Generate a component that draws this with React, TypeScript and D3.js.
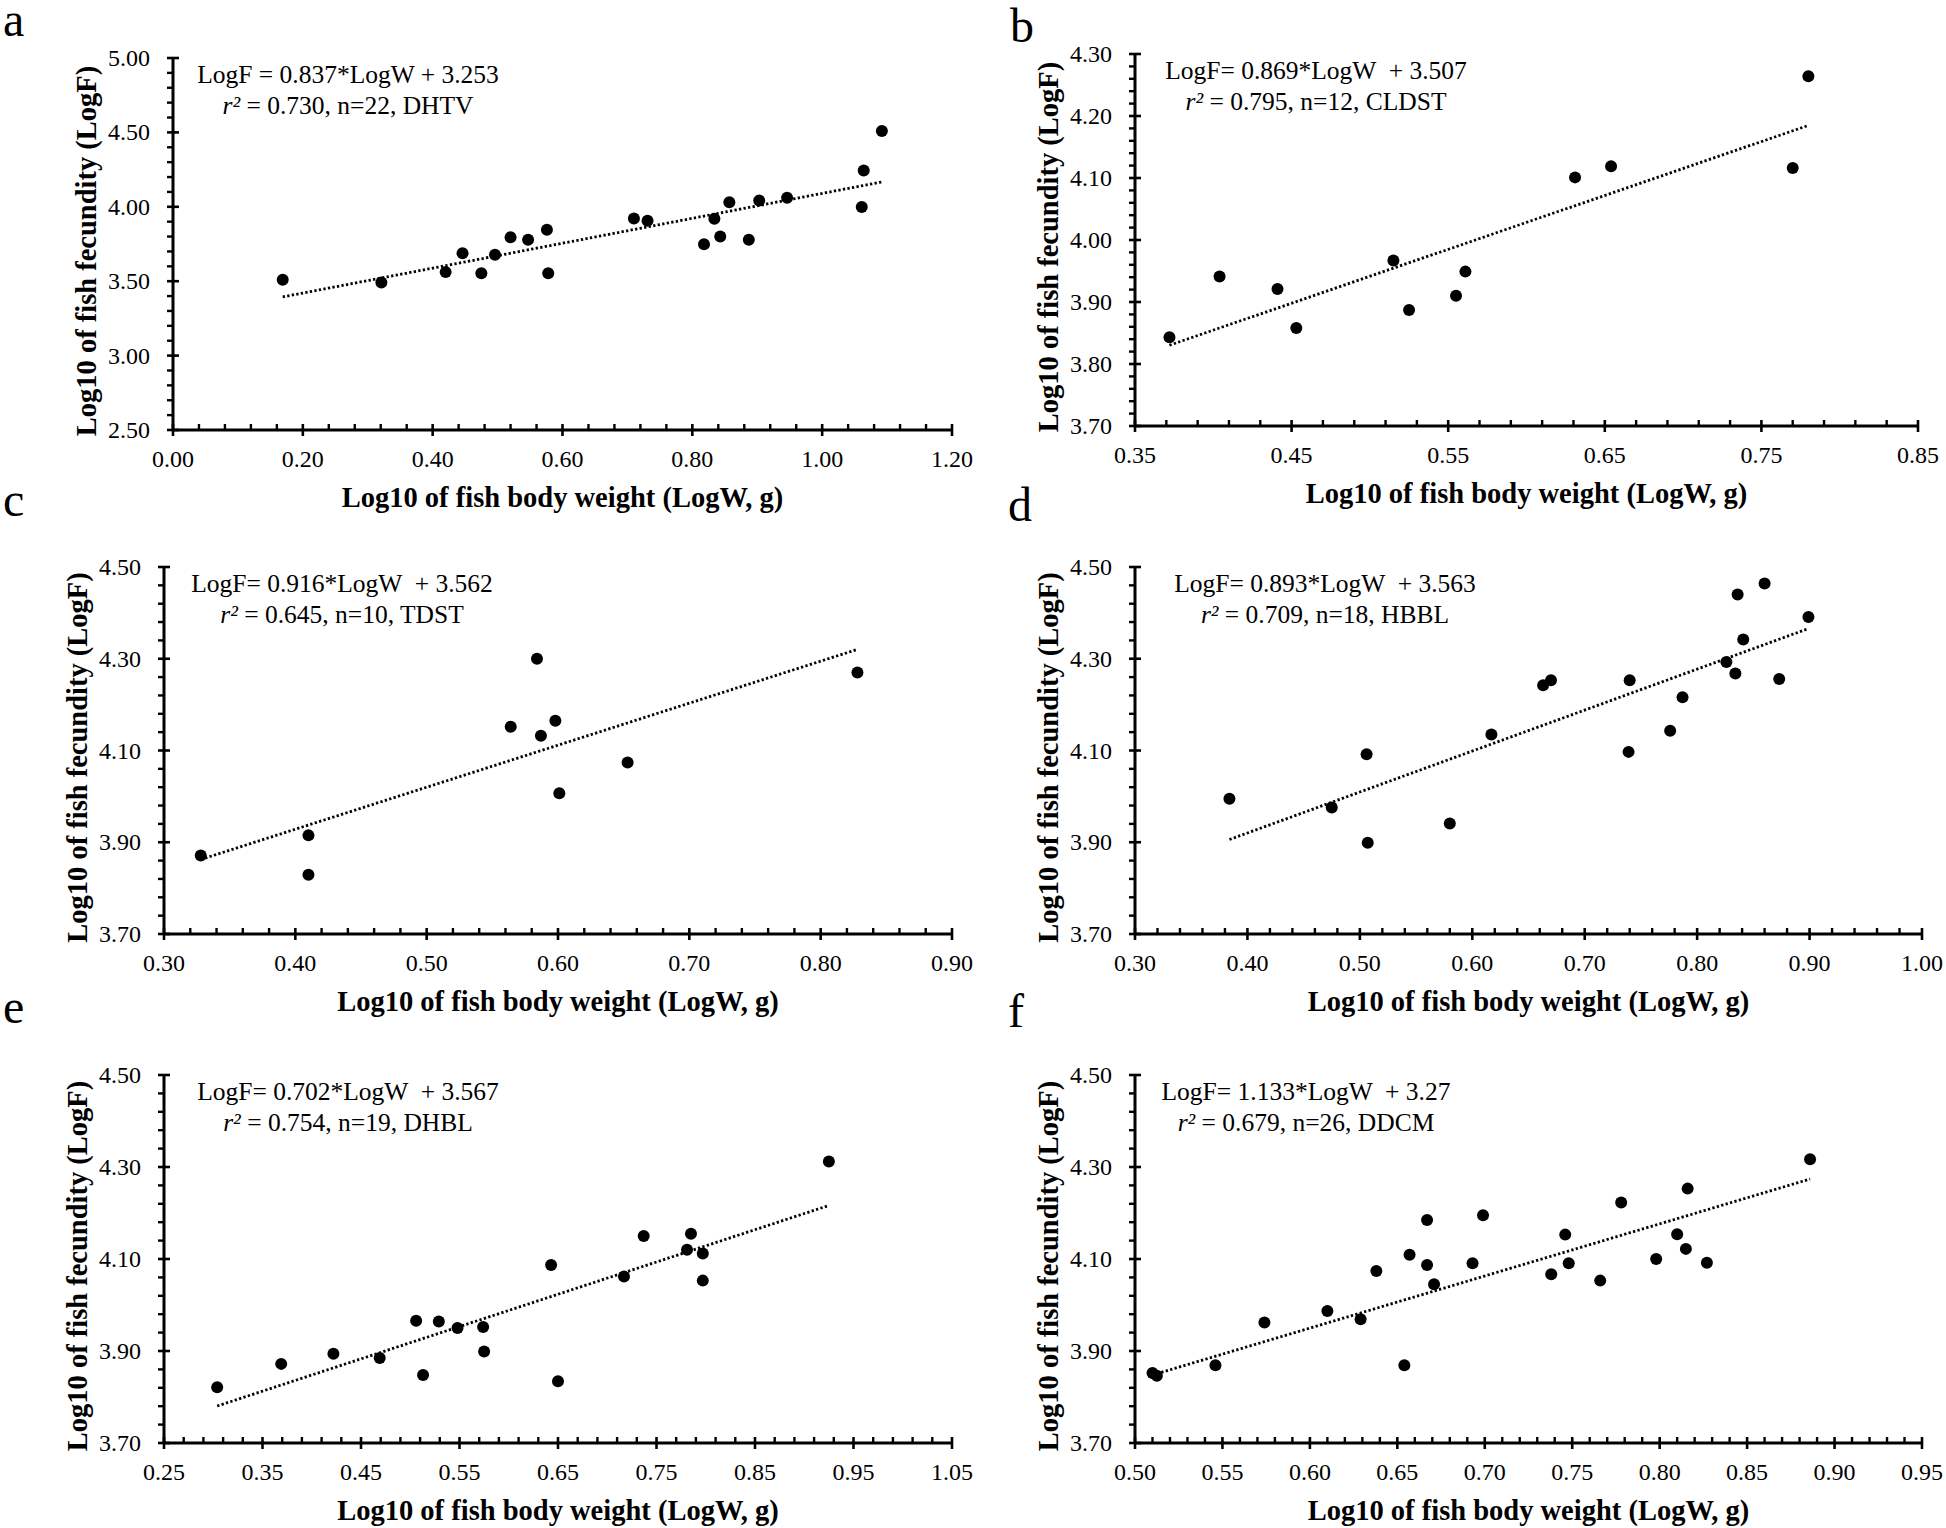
import React from 'react';
import * as d3 from 'd3';

// ---------- data ----------
const aLogW = [0.169, 0.321, 0.420, 0.446, 0.475, 0.496, 0.520, 0.547, 0.576, 0.578, 0.710, 0.731, 0.818, 0.834, 0.843, 0.857, 0.887, 0.903, 0.946, 1.061, 1.064, 1.092];
const aLogF = [3.509, 3.491, 3.561, 3.688, 3.554, 3.677, 3.796, 3.778, 3.845, 3.554, 3.921, 3.906, 3.749, 3.919, 3.800, 4.031, 3.778, 4.043, 4.061, 3.998, 4.244, 4.509];

const bLogW = [0.372, 0.404, 0.441, 0.453, 0.515, 0.525, 0.555, 0.561, 0.631, 0.654, 0.770, 0.780];
const bLogF = [3.843, 3.941, 3.921, 3.858, 3.967, 3.887, 3.910, 3.949, 4.101, 4.119, 4.116, 4.264];

const cLogW = [0.328, 0.410, 0.410, 0.564, 0.584, 0.587, 0.598, 0.601, 0.653, 0.828];
const cLogF = [3.871, 3.915, 3.829, 4.152, 4.300, 4.132, 4.165, 4.007, 4.074, 4.270];

const dLogW = [0.384, 0.475, 0.506, 0.507, 0.580, 0.617, 0.663, 0.670, 0.739, 0.740, 0.776, 0.787, 0.826, 0.834, 0.836, 0.841, 0.860, 0.873, 0.899];
const dLogF = [3.995, 3.976, 4.092, 3.899, 3.941, 4.135, 4.242, 4.253, 4.097, 4.253, 4.143, 4.216, 4.293, 4.268, 4.440, 4.342, 4.464, 4.256, 4.391];

const eLogW = [0.304, 0.369, 0.422, 0.469, 0.506, 0.513, 0.529, 0.548, 0.574, 0.575, 0.643, 0.650, 0.717, 0.737, 0.781, 0.785, 0.797, 0.797, 0.925];
const eLogF = [3.821, 3.872, 3.894, 3.885, 3.966, 3.848, 3.964, 3.950, 3.952, 3.899, 4.087, 3.834, 4.062, 4.150, 4.120, 4.155, 4.112, 4.053, 4.312];

const fLogW = [0.510, 0.5125, 0.546, 0.574, 0.610, 0.629, 0.638, 0.654, 0.657, 0.667, 0.667, 0.671, 0.693, 0.699, 0.738, 0.746, 0.748, 0.766, 0.778, 0.798, 0.810, 0.815, 0.816, 0.827, 0.886];
const fLogF = [3.852, 3.846, 3.869, 3.962, 3.987, 3.969, 4.074, 3.869, 4.109, 4.185, 4.087, 4.045, 4.091, 4.195, 4.067, 4.153, 4.091, 4.053, 4.223, 4.100, 4.154, 4.122, 4.253, 4.092, 4.317];

// tick values
const aXTicks = [0, 0.2, 0.4, 0.6, 0.8, 1.0, 1.2];
const aYTicks = [2.5, 3.0, 3.5, 4.0, 4.5, 5.0];
const bXTicks = [0.35, 0.45, 0.55, 0.65, 0.75, 0.85];
const bYTicks = [3.7, 3.8, 3.9, 4.0, 4.1, 4.2, 4.3];
const cXTicks = [0.3, 0.4, 0.5, 0.6, 0.7, 0.8, 0.9];
const dXTicks = [0.3, 0.4, 0.5, 0.6, 0.7, 0.8, 0.9, 1.0];
const eXTicks = [0.25, 0.35, 0.45, 0.55, 0.65, 0.75, 0.85, 0.95, 1.05];
const fXTicks = [0.5, 0.55, 0.6, 0.65, 0.7, 0.75, 0.8, 0.85, 0.9, 0.95];
const cdefYTicks = [3.7, 3.9, 4.1, 4.3, 4.5];

// regression equations
const slopes = [0.837, 0.869, 0.916, 0.893, 0.702, 1.133];
const intercepts = [3.253, 3.507, 3.562, 3.563, 3.567, 3.27];
const eqLines = [
  'LogF = 0.837*LogW + 3.253',
  'LogF= 0.869*LogW  + 3.507',
  'LogF= 0.916*LogW  + 3.562',
  'LogF= 0.893*LogW  + 3.563',
  'LogF= 0.702*LogW  + 3.567',
  'LogF= 1.133*LogW  + 3.27',
];
const r2Lines = [
  ' = 0.730, n=22, DHTV',
  ' = 0.795, n=12, CLDST',
  ' = 0.645, n=10, TDST',
  ' = 0.709, n=18, HBBL',
  ' = 0.754, n=19, DHBL',
  ' = 0.679, n=26, DDCM',
];
const panelLetters = ['a', 'b', 'c', 'd', 'e', 'f'];

// ---------- layout / style ----------
const FONT = '"Liberation Serif", "Times New Roman", Times, serif';

type Box = { l: number; r: number; t: number; b: number };
const boxes: Box[] = [
  { l: 173, r: 952, t: 58, b: 430 },
  { l: 1135, r: 1918, t: 54, b: 426 },
  { l: 164, r: 952, t: 567, b: 934 },
  { l: 1135, r: 1922, t: 567, b: 934 },
  { l: 164, r: 952, t: 1075, b: 1443 },
  { l: 1135, r: 1922, t: 1075, b: 1443 },
];
const letterPos = [
  [3, 36], [1010, 42], [3, 516], [1008, 521], [3, 1023], [1008, 1027],
];
const eqCenterOffset = [175, 181, 178, 190, 184, 171];

const panels = [
  { W: aLogW, F: aLogF, xd: [0, 1.2], yd: [2.5, 5.0], xt: aXTicks, yt: aYTicks, xm: 0.04, ym: 0.1 },
  { W: bLogW, F: bLogF, xd: [0.35, 0.85], yd: [3.7, 4.3], xt: bXTicks, yt: bYTicks, xm: 0.02, ym: 0.02 },
  { W: cLogW, F: cLogF, xd: [0.3, 0.9], yd: [3.7, 4.5], xt: cXTicks, yt: cdefYTicks, xm: 0.02, ym: 0.04 },
  { W: dLogW, F: dLogF, xd: [0.3, 1.0], yd: [3.7, 4.5], xt: dXTicks, yt: cdefYTicks, xm: 0.02, ym: 0.04 },
  { W: eLogW, F: eLogF, xd: [0.25, 1.05], yd: [3.7, 4.5], xt: eXTicks, yt: cdefYTicks, xm: 0.02, ym: 0.04 },
  { W: fLogW, F: fLogF, xd: [0.5, 0.95], yd: [3.7, 4.5], xt: fXTicks, yt: cdefYTicks, xm: 0.01, ym: 0.04 },
];

const fmt = d3.format('.2f');

function minorTicks(domain: number[], step: number, majors: number[]) {
  const n = Math.round((domain[1] - domain[0]) / step);
  return d3.range(0, n + 1)
    .map((i) => domain[0] + i * step)
    .filter((v) => !majors.some((m) => Math.abs(m - v) < step / 10));
}

function Panel({ idx }: { idx: number }) {
  const p = panels[idx];
  const box = boxes[idx];
  const x = d3.scaleLinear().domain(p.xd).range([box.l, box.r]);
  const y = d3.scaleLinear().domain(p.yd).range([box.b, box.t]);
  const [w0, w1] = d3.extent(p.W) as [number, number];
  const fit = (w: number) => slopes[idx] * w + intercepts[idx];
  const trend = d3.line()([
    [x(w0), y(fit(w0))],
    [x(w1), y(fit(w1))],
  ]) as string;
  const xMin = minorTicks(p.xd, p.xm, p.xt);
  const yMin = minorTicks(p.yd, p.ym, p.yt);
  const T = 6;
  const eqX = box.l + eqCenterOffset[idx];
  const cx = (box.l + box.r) / 2;
  const cy = (box.t + box.b) / 2 + 7;
  return (
    <g>
      <text x={letterPos[idx][0]} y={letterPos[idx][1]} fontFamily={FONT} fontSize={48}>{panelLetters[idx]}</text>
      {/* trend line */}
      <path d={trend} fill="none" stroke="#000" strokeWidth={2.8} strokeDasharray="2.3 2.3" />
      {/* points */}
      {p.W.map((w, i) => (
        <circle key={i} cx={x(w)} cy={y(p.F[i])} r={6} fill="#000" />
      ))}
      {/* axes */}
      <line x1={box.l} x2={box.l} y1={box.t} y2={box.b} stroke="#000" strokeWidth={3} />
      <line x1={box.l} x2={box.r} y1={box.b} y2={box.b} stroke="#000" strokeWidth={3} />
      {p.xt.map((v) => (
        <line key={'xM' + v} x1={x(v)} x2={x(v)} y1={box.b - T} y2={box.b + T} stroke="#000" strokeWidth={2.6} />
      ))}
      {xMin.map((v) => (
        <line key={'xm' + v} x1={x(v)} x2={x(v)} y1={box.b - T} y2={box.b} stroke="#000" strokeWidth={2.4} />
      ))}
      {p.yt.map((v) => (
        <line key={'yM' + v} x1={box.l - T} x2={box.l + T} y1={y(v)} y2={y(v)} stroke="#000" strokeWidth={2.6} />
      ))}
      {yMin.map((v) => (
        <line key={'ym' + v} x1={box.l - T} x2={box.l} y1={y(v)} y2={y(v)} stroke="#000" strokeWidth={2.4} />
      ))}
      {/* tick labels */}
      {p.xt.map((v) => (
        <text key={'xl' + v} x={x(v)} y={box.b + 37} textAnchor="middle" fontFamily={FONT} fontSize={24}>{fmt(v)}</text>
      ))}
      {p.yt.map((v) => (
        <text key={'yl' + v} x={box.l - 23} y={y(v) + 8} textAnchor="end" fontFamily={FONT} fontSize={24}>{fmt(v)}</text>
      ))}
      {/* axis titles */}
      <text x={cx} y={box.b + 77} textAnchor="middle" fontFamily={FONT} fontWeight="bold" fontSize={28.5}>
        Log10 of fish body weight (LogW, g)
      </text>
      <text transform={`translate(${box.l - 87},${cy}) rotate(-90)`} dy="0.35em" textAnchor="middle" fontFamily={FONT} fontWeight="bold" fontSize={28.5}>
        Log10 of fish fecundity (LogF)
      </text>
      {/* equation */}
      <text x={eqX} y={box.t + 25} textAnchor="middle" fontFamily={FONT} fontSize={25.5} style={{ whiteSpace: 'pre' }}>
        {eqLines[idx]}
      </text>
      <text x={eqX} y={box.t + 56} textAnchor="middle" fontFamily={FONT} fontSize={25.5} style={{ whiteSpace: 'pre' }}>
        <tspan fontStyle="italic">r²</tspan>
        <tspan>{r2Lines[idx]}</tspan>
      </text>
    </g>
  );
}

export default function App() {
  return (
    <svg
      width={1946}
      height={1528}
      viewBox="0 0 1946 1528"
      style={{ position: 'absolute', left: 0, top: 0, background: '#fff' }}
    >
      <rect x={0} y={0} width={1946} height={1528} fill="#fff" />
      {panels.map((_, i) => (
        <Panel key={i} idx={i} />
      ))}
    </svg>
  );
}
